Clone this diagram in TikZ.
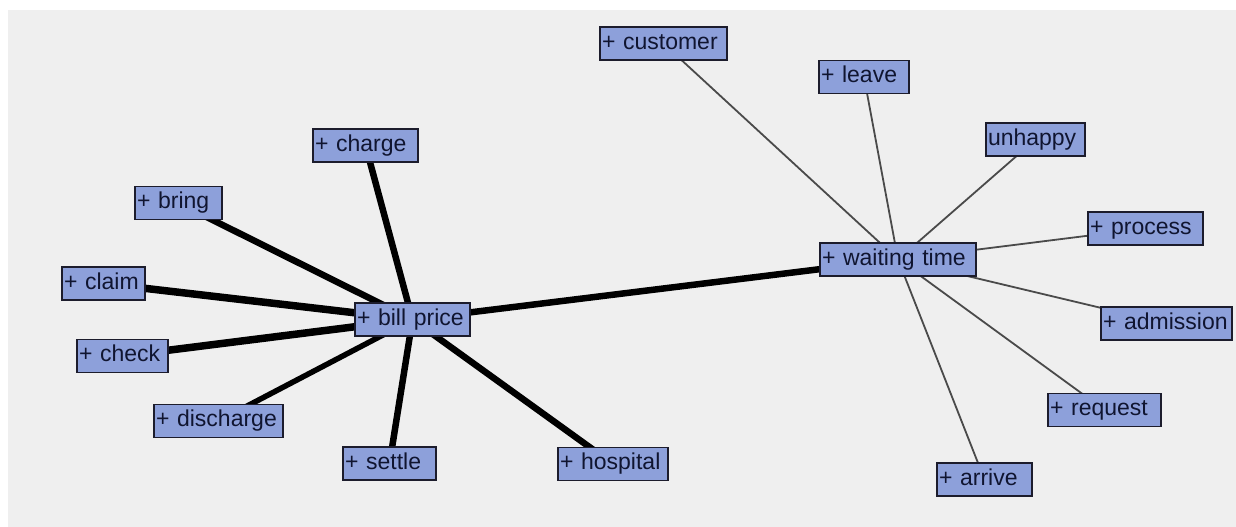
\documentclass[tikz,border=0pt]{standalone}
\usepackage{fontspec}
\setmainfont{Liberation Sans}
\definecolor{bggray}{HTML}{EFEFEF}
\definecolor{boxfill}{HTML}{8DA0DA}
\definecolor{boxdraw}{HTML}{1C1C2C}
\definecolor{boxtext}{HTML}{101530}
\definecolor{thinedge}{HTML}{4A4A4A}
\pgfdeclarelayer{back}
\pgfdeclarelayer{edges}
\pgfsetlayers{back,edges,main}
\begin{document}
\begin{tikzpicture}[x=1pt,y=-1pt,
  term/.style={draw=boxdraw, line width=1.6pt, fill=boxfill, text=boxtext,
    font=\fontsize{23}{24}\selectfont, inner xsep=2pt, inner ysep=0pt,
    minimum height=33pt, align=left, text height=16pt, text depth=5pt},
  strong/.style={line width=6.5pt, black},
  weak/.style={line width=1.8pt, thinedge}]
\useasboundingbox (0,0) rectangle (1236,527);
% nodes (centre positions, widths from the reference)
\node[term, text width=123pt] (customer) at (663.5,43.5) {+ customer};
\node[term, text width=86pt] (leave) at (864,77) {+ leave};
\node[term, text width=95pt] (unhappy) at (1035.5,139.5) {unhappy};
\node[term, text width=111pt] (process) at (1145.5,228.5) {+ process};
\node[term, text width=152pt] (waiting) at (898,259.5) {+ waiting time};
\node[term, text width=127pt] (admission) at (1166.5,323.5) {+ admission};
\node[term, text width=109pt] (request) at (1104.5,410) {+ request};
\node[term, text width=91pt] (arrive) at (984.5,479.5) {+ arrive};
\node[term, text width=101pt] (charge) at (365.5,145.5) {+ charge};
\node[term, text width=83pt] (bring) at (178.5,203) {+ bring};
\node[term, text width=79pt] (claim) at (103.5,283.5) {+ claim};
\node[term, text width=111pt] (bill) at (412.5,319.5) {+ bill price};
\node[term, text width=87pt] (check) at (122.5,356) {+ check};
\node[term, text width=125pt] (discharge) at (218.5,421) {+ discharge};
\node[term, text width=89pt] (settle) at (389.5,463.5) {+ settle};
\node[term, text width=106pt] (hospital) at (613,464) {+ hospital};
\begin{pgfonlayer}{back}
\fill[white] (0,0) rectangle (1236,527);
\fill[bggray] (8,10) rectangle (1236,527);
\end{pgfonlayer}
% connectors, behind the nodes
\begin{pgfonlayer}{edges}
\draw[strong] (bill.center) -- (charge.center);
\draw[strong] (bill.center) -- (bring.center);
\draw[strong, line width=7.5pt] (bill.center) -- (claim.center);
\draw[strong, line width=7.5pt] (bill.center) -- (check.center);
\draw[strong, line width=5.5pt] (bill.center) -- (discharge.center);
\draw[strong] (bill.center) -- (settle.center);
\draw[strong] (bill.center) -- (hospital.center);
\draw[strong] (bill.center) -- (waiting.center);
\draw[weak] (waiting.center) -- (customer.center);
\draw[weak] (waiting.center) -- (leave.center);
\draw[weak] (waiting.center) -- (unhappy.center);
\draw[weak] (waiting.center) -- (process.center);
\draw[weak] (waiting.center) -- (admission.center);
\draw[weak] (waiting.center) -- (request.center);
\draw[weak] (waiting.center) -- (arrive.center);
\end{pgfonlayer}
\end{tikzpicture}
\end{document}
